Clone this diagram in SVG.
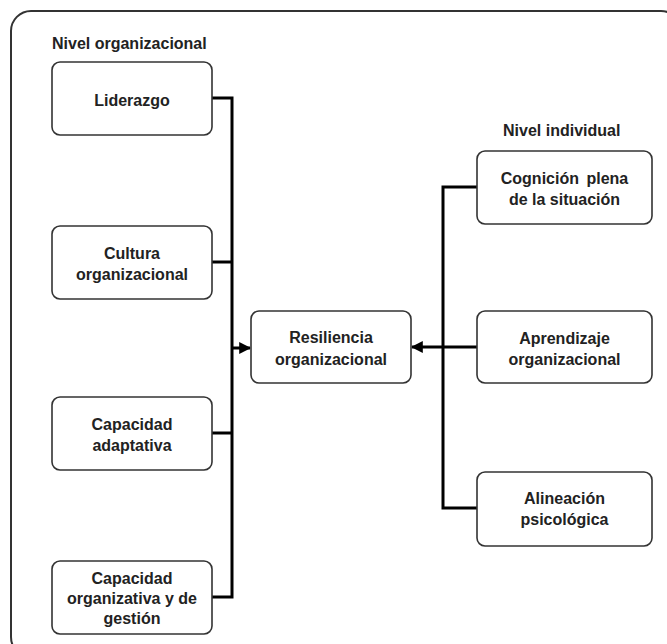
<svg xmlns="http://www.w3.org/2000/svg" width="667" height="644" viewBox="0 0 667 644">
  <style>
    .frame { fill: #ffffff; stroke: #333333; stroke-width: 2; }
    .box { fill: #ffffff; stroke: #333333; stroke-width: 1.6; }
    .lbl { font-family: "Liberation Sans", Arial, sans-serif; font-weight: bold; font-size: 16px; fill: #222222; text-anchor: middle; }
    .hdr { font-family: "Liberation Sans", Arial, sans-serif; font-weight: bold; font-size: 16px; fill: #222222; }
    .wire { fill: none; stroke: #000000; stroke-width: 3; stroke-linejoin: miter; }
  </style>
  <defs>
    <marker id="arrow" viewBox="0 0 10 10" refX="9" refY="5" markerWidth="4" markerHeight="4" orient="auto" markerUnits="strokeWidth">
      <path d="M0,0 L10,5 L0,10 z" fill="#000000"/>
    </marker>
  </defs>

  <rect width="667" height="644" fill="#ffffff"/>
  <rect class="frame" x="11" y="11" width="670" height="646" rx="20" ry="20"/>

  <text class="hdr" x="52" y="49">Nivel organizacional</text>
  <text class="hdr" x="503" y="136">Nivel individual</text>

  <g id="connectors">
    <path class="wire" d="M212,98 H232 V597 H212"/>
    <path class="wire" d="M212,262 H232"/>
    <path class="wire" d="M212,433 H232"/>
    <path class="wire" d="M232,348 H250" marker-end="url(#arrow)"/>
    <path class="wire" d="M477,187 H443 V508 H477"/>
    <path class="wire" d="M477,347 H412" marker-end="url(#arrow)"/>
  </g>

  <g id="liderazgo">
    <rect class="box" x="52" y="62" width="160" height="73" rx="8"/>
    <text class="lbl" x="132" y="106">Liderazgo</text>
  </g>
  <g id="cultura">
    <rect class="box" x="52" y="226" width="160" height="73" rx="8"/>
    <text class="lbl" x="132" y="259">Cultura</text>
    <text class="lbl" x="132" y="280">organizacional</text>
  </g>
  <g id="capacidad-adaptativa">
    <rect class="box" x="52" y="397" width="160" height="73" rx="8"/>
    <text class="lbl" x="132" y="430">Capacidad</text>
    <text class="lbl" x="132" y="451">adaptativa</text>
  </g>
  <g id="capacidad-organizativa">
    <rect class="box" x="52" y="561" width="160" height="73" rx="8"/>
    <text class="lbl" x="132" y="584">Capacidad</text>
    <text class="lbl" x="132" y="604">organizativa y de</text>
    <text class="lbl" x="132" y="624">gestión</text>
  </g>
  <g id="resiliencia">
    <rect class="box" x="251" y="311" width="160" height="72" rx="8"/>
    <text class="lbl" x="331" y="343">Resiliencia</text>
    <text class="lbl" x="331" y="365">organizacional</text>
  </g>
  <g id="cognicion">
    <rect class="box" x="477" y="151" width="175" height="73" rx="8"/>
    <text class="lbl" x="564.5" y="184" word-spacing="3">Cognición plena</text>
    <text class="lbl" x="564.5" y="205">de la situación</text>
  </g>
  <g id="aprendizaje">
    <rect class="box" x="477" y="311" width="175" height="72" rx="8"/>
    <text class="lbl" x="564.5" y="344">Aprendizaje</text>
    <text class="lbl" x="564.5" y="365">organizacional</text>
  </g>
  <g id="alineacion">
    <rect class="box" x="477" y="472" width="175" height="74" rx="8"/>
    <text class="lbl" x="564.5" y="504">Alineación</text>
    <text class="lbl" x="564.5" y="525">psicológica</text>
  </g>
</svg>
